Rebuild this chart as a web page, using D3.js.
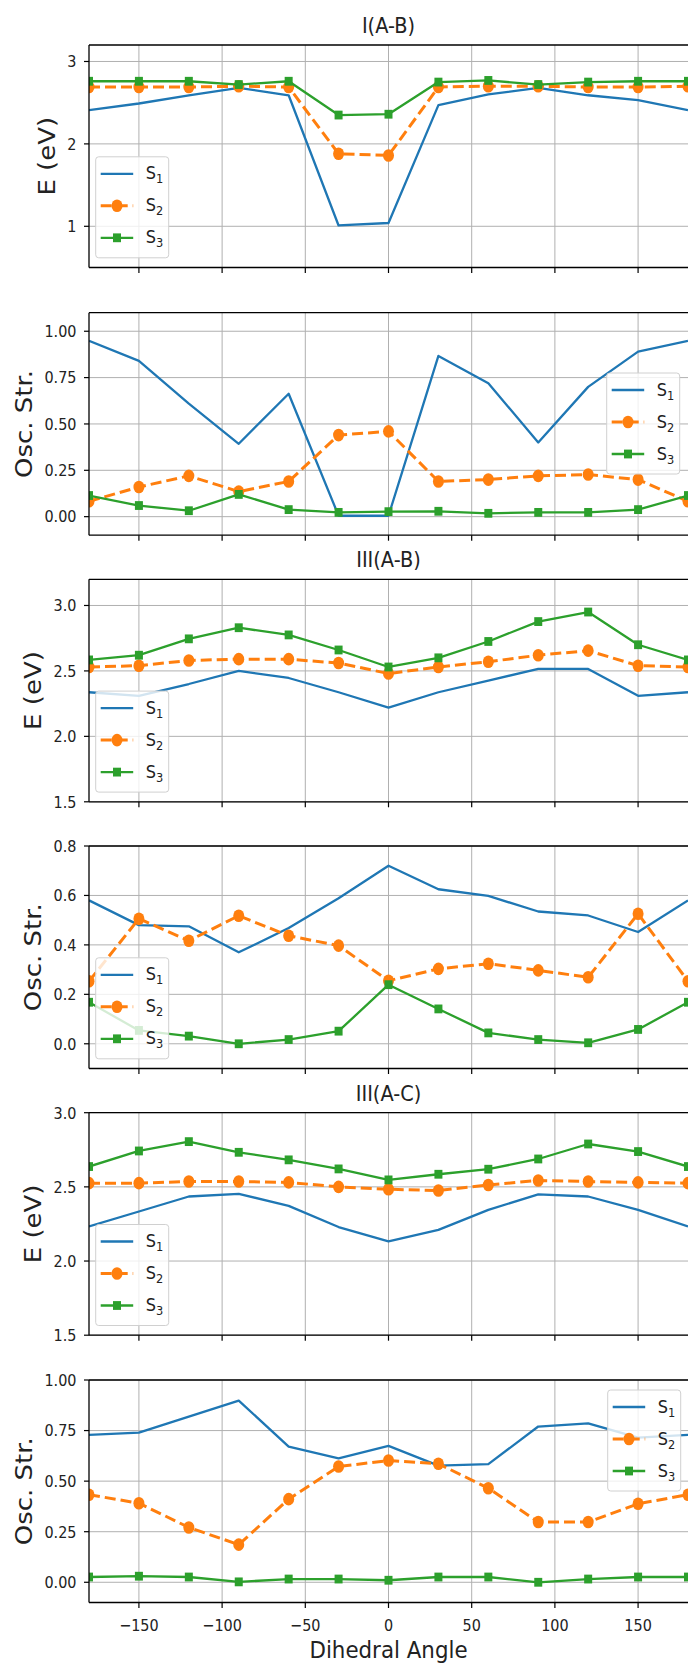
<!DOCTYPE html>
<html>
<head>
<meta charset="utf-8">
<script src="https://cdn.jsdelivr.net/npm/d3@7"></script>
<style>
  body { margin: 0; background: #fff; }
  svg { display: block; font-family: "DejaVu Sans", sans-serif; }
</style>
</head>
<body>
<div class="svg-target"></div>
<script>
// Dihedral angles (x values, every 30 degrees)
const angles = [-180, -150, -120, -90, -60, -30, 0, 30, 60, 90, 120, 150, 180];
const xTicks = [-150, -100, -50, 0, 50, 100, 150];
const seriesNames = ['1', '2', '3'];

// I(A-B) energies
const iAB_E_S1 = [2.41, 2.49, 2.59, 2.68, 2.59, 1.01, 1.04, 2.47, 2.60, 2.68, 2.59, 2.53, 2.41];
const iAB_E_S2 = [2.69, 2.69, 2.69, 2.70, 2.69, 1.88, 1.86, 2.69, 2.70, 2.70, 2.69, 2.69, 2.70];
const iAB_E_S3 = [2.76, 2.76, 2.76, 2.72, 2.76, 2.35, 2.36, 2.75, 2.77, 2.72, 2.75, 2.76, 2.76];
// I(A-B) oscillator strengths
const iAB_F_S1 = [0.948, 0.84, 0.61, 0.393, 0.663, 0.005, 0.005, 0.867, 0.72, 0.40, 0.70, 0.89, 0.948];
const iAB_F_S2 = [0.083, 0.16, 0.22, 0.135, 0.19, 0.44, 0.46, 0.19, 0.20, 0.22, 0.227, 0.20, 0.083];
const iAB_F_S3 = [0.114, 0.06, 0.032, 0.12, 0.038, 0.023, 0.027, 0.029, 0.018, 0.023, 0.023, 0.038, 0.114];

// III(A-B) energies
const iiiAB_E_S1 = [2.337, 2.31, 2.40, 2.50, 2.446, 2.337, 2.22, 2.337, 2.426, 2.515, 2.515, 2.31, 2.337];
const iiiAB_E_S2 = [2.53, 2.54, 2.58, 2.59, 2.59, 2.56, 2.48, 2.53, 2.57, 2.62, 2.655, 2.54, 2.53];
const iiiAB_E_S3 = [2.584, 2.62, 2.745, 2.83, 2.775, 2.66, 2.53, 2.60, 2.725, 2.877, 2.95, 2.70, 2.584];
// III(A-B) oscillator strengths
const iiiAB_F_S1 = [0.58, 0.48, 0.475, 0.37, 0.468, 0.589, 0.72, 0.625, 0.598, 0.535, 0.519, 0.452, 0.58];
const iiiAB_F_S2 = [0.253, 0.506, 0.417, 0.518, 0.437, 0.397, 0.255, 0.303, 0.324, 0.297, 0.269, 0.526, 0.253];
const iiiAB_F_S3 = [0.168, 0.054, 0.031, 0.0, 0.017, 0.051, 0.239, 0.141, 0.044, 0.017, 0.004, 0.058, 0.168];

// III(A-C) energies
const iiiAC_E_S1 = [2.233, 2.334, 2.435, 2.453, 2.372, 2.229, 2.132, 2.21, 2.345, 2.45, 2.435, 2.345, 2.233];
const iiiAC_E_S2 = [2.525, 2.525, 2.536, 2.536, 2.53, 2.50, 2.484, 2.475, 2.513, 2.543, 2.536, 2.53, 2.525];
const iiiAC_E_S3 = [2.637, 2.742, 2.805, 2.733, 2.682, 2.621, 2.547, 2.585, 2.619, 2.688, 2.789, 2.738, 2.637];
// III(A-C) oscillator strengths
const iiiAC_F_S1 = [0.729, 0.74, 0.819, 0.898, 0.671, 0.613, 0.674, 0.577, 0.584, 0.77, 0.786, 0.715, 0.729];
const iiiAC_F_S2 = [0.433, 0.391, 0.271, 0.186, 0.411, 0.572, 0.602, 0.586, 0.465, 0.298, 0.298, 0.388, 0.433];
const iiiAC_F_S3 = [0.026, 0.03, 0.026, 0.002, 0.016, 0.016, 0.01, 0.026, 0.026, 0.0, 0.016, 0.026, 0.026];

// y ticks per panel
const yTicksE1 = [1, 2, 3];
const yTicksF = [0, 0.25, 0.5, 0.75, 1.0];
const yTicksE3 = [1.5, 2.0, 2.5, 3.0];
const yTicksF4 = [0, 0.2, 0.4, 0.6, 0.8];

const titles = ['I(A-B)', 'III(A-B)', 'III(A-C)'];

// Layout
const w = 688;
const h = 1664;
const left = 89;
const right = 688;
const panelH = 222.5;
const panelTops = [45, 312.7, 579.3, 846, 1112.7, 1380];
const colors = ['#1f77b4', '#ff7f0e', '#2ca02c'];

const panels = [
    {title: titles[0], ylabel: 'E (eV)', domain: [0.5, 3.2], ticks: yTicksE1, fmt: d3.format('d'),
     data: [iAB_E_S1, iAB_E_S2, iAB_E_S3], legend: 'lowerleft'},
    {title: null, ylabel: 'Osc. Str.', domain: [-0.1, 1.1], ticks: yTicksF, fmt: d3.format('.2f'),
     data: [iAB_F_S1, iAB_F_S2, iAB_F_S3], legend: 'midright'},
    {title: titles[1], ylabel: 'E (eV)', domain: [1.5, 3.2], ticks: yTicksE3, fmt: d3.format('.1f'),
     data: [iiiAB_E_S1, iiiAB_E_S2, iiiAB_E_S3], legend: 'lowerleft'},
    {title: null, ylabel: 'Osc. Str.', domain: [-0.1, 0.8], ticks: yTicksF4, fmt: d3.format('.1f'),
     data: [iiiAB_F_S1, iiiAB_F_S2, iiiAB_F_S3], legend: 'lowerleft'},
    {title: titles[2], ylabel: 'E (eV)', domain: [1.5, 3.0], ticks: yTicksE3, fmt: d3.format('.1f'),
     data: [iiiAC_E_S1, iiiAC_E_S2, iiiAC_E_S3], legend: 'lowerleft'},
    {title: null, ylabel: 'Osc. Str.', domain: [-0.1, 1.0], ticks: yTicksF, fmt: d3.format('.2f'),
     data: [iiiAC_F_S1, iiiAC_F_S2, iiiAC_F_S3], legend: 'upperright'}
];

const svg = d3.select('.svg-target')
    .append('svg')
    .attr('width', w)
    .attr('height', h);

const xScale = d3.scaleLinear()
    .domain([-180, 180])
    .range([left, right]);

// squeezed text helper (the figure looks horizontally compressed)
function squeezedText(g, x, y, c) {
    return g.append('text')
        .attr('transform', `translate(${x},${y}) scale(${c},1)`);
}

function drawMarker(g, type, cx, cy, color) {
    if(type === 1) {
        g.append('ellipse')
            .attr('cx', cx).attr('cy', cy)
            .attr('rx', 5.5).attr('ry', 6.3)
            .attr('fill', color);
    } else if(type === 2) {
        g.append('rect')
            .attr('x', cx - 4).attr('y', cy - 4.4)
            .attr('width', 8).attr('height', 8.8)
            .attr('fill', color);
    }
}

const renderPanel = (p, i) => {
    const top = panelTops[i];
    const bottom = top + panelH;
    const g = svg.append('g');

    const yScale = d3.scaleLinear()
        .domain(p.domain)
        .range([bottom, top]);

    // grid
    g.selectAll('.xgrid')
        .data(xTicks)
        .enter().append('line')
        .attr('x1', d => xScale(d)).attr('x2', d => xScale(d))
        .attr('y1', top).attr('y2', bottom)
        .attr('stroke', '#b0b0b0').attr('stroke-width', 1);
    g.selectAll('.ygrid')
        .data(p.ticks)
        .enter().append('line')
        .attr('x1', left).attr('x2', right)
        .attr('y1', d => yScale(d)).attr('y2', d => yScale(d))
        .attr('stroke', '#b0b0b0').attr('stroke-width', 1);

    // clip
    svg.append('clipPath')
        .attr('id', 'clip' + i)
        .append('rect')
        .attr('x', left).attr('y', top)
        .attr('width', right - left).attr('height', panelH);

    const plot = g.append('g').attr('clip-path', `url(#clip${i})`);
    const line = d3.line()
        .x((d, k) => xScale(angles[k]))
        .y(d => yScale(d));

    p.data.forEach((vals, s) => {
        plot.append('path')
            .datum(vals)
            .attr('d', line)
            .attr('fill', 'none')
            .attr('stroke', colors[s])
            .attr('stroke-width', s === 1 ? 3 : 2.3)
            .attr('stroke-dasharray', s === 1 ? '11,5' : null)
            .attr('stroke-linejoin', 'round');
        vals.forEach((v, k) => drawMarker(plot, s, xScale(angles[k]), yScale(v), colors[s]));
    });

    // spines
    g.append('line').attr('x1', left).attr('x2', right).attr('y1', top).attr('y2', top)
        .attr('stroke', '#000').attr('stroke-width', 1.3);
    g.append('line').attr('x1', left).attr('x2', right).attr('y1', bottom).attr('y2', bottom)
        .attr('stroke', '#000').attr('stroke-width', 1.3);
    g.append('line').attr('x1', left).attr('x2', left).attr('y1', top).attr('y2', bottom)
        .attr('stroke', '#000').attr('stroke-width', 1.3);

    // x ticks
    g.selectAll('.xtick')
        .data(xTicks)
        .enter().append('line')
        .attr('x1', d => xScale(d)).attr('x2', d => xScale(d))
        .attr('y1', bottom).attr('y2', bottom + 5.5)
        .attr('stroke', '#000').attr('stroke-width', 1.2);
    if(i === panels.length - 1) {
        xTicks.forEach(t => {
            squeezedText(g, xScale(t), bottom + 28.5, 0.9)
                .attr('text-anchor', 'middle')
                .attr('font-size', 16)
                .attr('fill', '#222')
                .text(d3.format('d')(t));
        });
        squeezedText(g, (left + right) / 2, bottom + 55.5, 0.93)
            .attr('text-anchor', 'middle')
            .attr('font-size', 23)
            .attr('fill', '#222')
            .text('Dihedral Angle');
    }

    // y ticks
    let maxW = 0;
    p.ticks.forEach(t => {
        g.append('line')
            .attr('x1', left - 5).attr('x2', left)
            .attr('y1', yScale(t)).attr('y2', yScale(t))
            .attr('stroke', '#000').attr('stroke-width', 1.2);
        const txt = squeezedText(g, 76.5, yScale(t) + 5.8, 0.9)
            .attr('text-anchor', 'end')
            .attr('font-size', 16)
            .attr('fill', '#222')
            .text(p.fmt(t));
        maxW = Math.max(maxW, txt.node().getComputedTextLength() * 0.9);
    });

    // y label
    const lx = 76.5 - maxW - 12.3;
    g.append('text')
        .attr('transform', `translate(${lx},${(top + bottom) / 2}) scale(0.85,1) rotate(-90)`)
        .attr('text-anchor', 'middle')
        .attr('font-size', 26)
        .attr('fill', '#222')
        .text(p.ylabel);

    // title
    if(p.title) {
        squeezedText(g, (left + right) / 2, top - 12, 0.88)
            .attr('text-anchor', 'middle')
            .attr('font-size', 22)
            .attr('fill', '#222')
            .text(p.title);
    }

    // legend
    const lw = 73, lh = 101;
    let bx, by;
    if(p.legend === 'lowerleft') {
        bx = left + 6.7; by = bottom - 9.7 - lh;
    } else if(p.legend === 'midright') {
        bx = 606.7; by = top + 60.3;
    } else {
        bx = 607.7; by = top + 10;
    }
    const lg = g.append('g').attr('transform', `translate(${bx},${by})`);
    lg.append('rect')
        .attr('width', lw).attr('height', lh)
        .attr('rx', 3)
        .attr('fill', '#fff').attr('fill-opacity', 0.8)
        .attr('stroke', '#d0d0d0').attr('stroke-width', 1);
    seriesNames.forEach((n, s) => {
        const ey = 17 + s * 32;
        lg.append('line')
            .attr('x1', 5).attr('x2', 37.5)
            .attr('y1', ey).attr('y2', ey)
            .attr('stroke', colors[s])
            .attr('stroke-width', s === 1 ? 3 : 2.3)
            .attr('stroke-dasharray', s === 1 ? '11,5' : null);
        drawMarker(lg, s, 21.3, ey, colors[s]);
        const t = squeezedText(lg, 50, ey + 5.5, 0.95)
            .attr('font-size', 17)
            .attr('fill', '#222');
        t.append('tspan').text('S');
        t.append('tspan').attr('font-size', 12).attr('dy', 4).text(n);
    });
};

panels.forEach(renderPanel);
</script>
</body>
</html>
